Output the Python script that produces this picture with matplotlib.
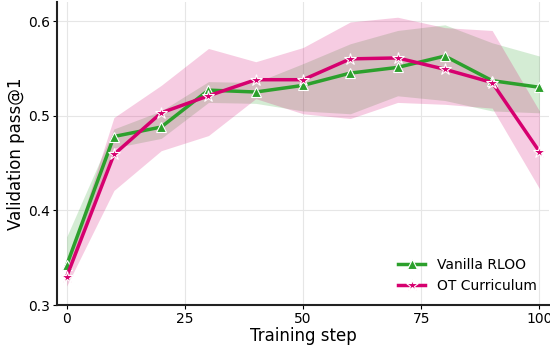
import matplotlib
matplotlib.use("Agg")
import matplotlib.pyplot as plt

# Data
steps = [0, 10, 20, 30, 40, 50, 60, 70, 80, 90, 100]

rloo = [0.342, 0.478, 0.488, 0.527, 0.525, 0.532, 0.545, 0.551, 0.563, 0.537, 0.530]
rloo_lo = [0.333, 0.466, 0.476, 0.514, 0.513, 0.505, 0.502, 0.521, 0.516, 0.505, 0.503]
rloo_hi = [0.372, 0.486, 0.505, 0.536, 0.535, 0.555, 0.576, 0.590, 0.596, 0.577, 0.563]

ot = [0.330, 0.459, 0.503, 0.521, 0.538, 0.538, 0.560, 0.561, 0.549, 0.535, 0.462]
ot_lo = [0.320, 0.421, 0.463, 0.479, 0.518, 0.502, 0.497, 0.514, 0.512, 0.508, 0.423]
ot_hi = [0.342, 0.498, 0.532, 0.571, 0.557, 0.572, 0.599, 0.604, 0.593, 0.590, 0.505]

green = "#2ca02c"
pink = "#d6006f"

fig = plt.figure(figsize=(5.5, 3.47), dpi=100)
ax = fig.add_axes([0.104, 0.121, 0.894, 0.873])

ax.fill_between(steps, rloo_lo, rloo_hi, color=green, alpha=0.2, linewidth=0)
ax.fill_between(steps, ot_lo, ot_hi, color=pink, alpha=0.2, linewidth=0)

ax.plot(steps, rloo, color=green, linewidth=2.5, marker="^", markersize=7.5,
        markeredgecolor="white", markeredgewidth=0.8, label="Vanilla RLOO")
ax.plot(steps, ot, color=pink, linewidth=2.5, marker="*", markersize=9,
        markeredgecolor="white", markeredgewidth=0.8, label="OT Curriculum")

ax.set_xlim(-2, 102)
ax.set_ylim(0.3, 0.62)
ax.set_xticks([0, 25, 50, 75, 100])
ax.set_yticks([0.3, 0.4, 0.5, 0.6])
ax.grid(True, color="#e6e6e6", linewidth=0.8)
ax.set_axisbelow(True)

for s in ["top", "right"]:
    ax.spines[s].set_visible(False)
for s in ["left", "bottom"]:
    ax.spines[s].set_linewidth(1.5)
    ax.spines[s].set_color("#222222")

ax.tick_params(labelsize=10, length=3, pad=2)
ax.set_xlabel("Training step", fontsize=12, labelpad=1)
ax.set_ylabel("Validation pass@1", fontsize=12, labelpad=2)

ax.legend(loc="lower right", frameon=False, fontsize=10)

fig.savefig("out.png", dpi=100)
